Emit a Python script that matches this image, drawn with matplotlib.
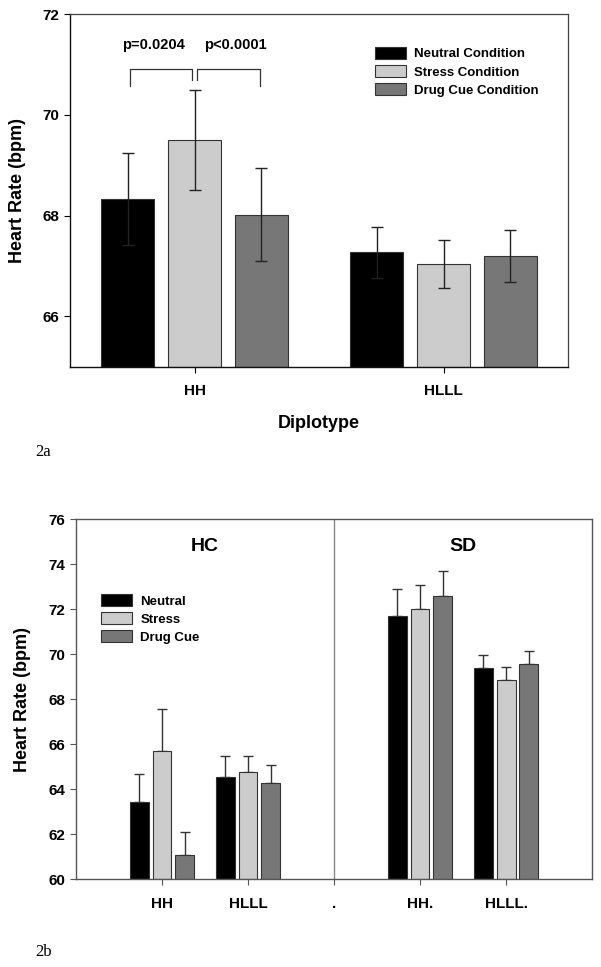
import matplotlib
matplotlib.use("Agg")
import matplotlib.pyplot as plt
import numpy as np

plt.rcParams['font.family'] = ['Liberation Sans', 'DejaVu Sans']

# --- Figure 2a data ---
diplotypes_a = ["HH", "HLLL"]
conditions_a = ["Neutral Condition", "Stress Condition", "Drug Cue Condition"]
neutral_a = [68.33, 67.27]
stress_a = [69.50, 67.04]
drugcue_a = [68.02, 67.20]
neutral_a_err = [0.92, 0.51]
stress_a_err = [1.00, 0.47]
drugcue_a_err = [0.93, 0.52]
pvals_a = ["p=0.0204", "p<0.0001"]

# --- Figure 2b data ---
tick_labels_b = ["HH", "HLLL", ".", "HH.", "HLLL."]
conditions_b = ["Neutral", "Stress", "Drug Cue"]
groups_b = ["HC", "SD"]
neutral_b = [63.46, 64.57, np.nan, 71.71, 69.41]
stress_b = [65.72, 64.79, np.nan, 72.02, 68.84]
drugcue_b = [61.09, 64.28, np.nan, 72.57, 69.58]
neutral_b_err = [1.23, 0.92, np.nan, 1.19, 0.57]
stress_b_err = [1.84, 0.70, np.nan, 1.04, 0.62]
drugcue_b_err = [1.03, 0.81, np.nan, 1.14, 0.59]

colors = ["#000000", "#cccccc", "#777777"]
edge = "#333333"

fig = plt.figure(figsize=(6.01, 9.67), dpi=100)

# ---------------- 2a ----------------
ax1 = fig.add_axes([0.1165, 0.6208, 0.8286, 0.3647])
x = np.arange(len(diplotypes_a))
w = 0.215
off = 0.269
series_a = [(neutral_a, neutral_a_err), (stress_a, stress_a_err), (drugcue_a, drugcue_a_err)]
for i, (vals, errs) in enumerate(series_a):
    ax1.bar(x + (i - 1) * off, np.array(vals) - 65, w, bottom=65, color=colors[i],
            edgecolor=edge, linewidth=0.8, label=conditions_a[i], zorder=2)
    ax1.errorbar(x + (i - 1) * off, vals, yerr=errs, fmt="none", ecolor="#222222",
                 elinewidth=1.0, capsize=4.5, capthick=1.0, zorder=3)

ax1.set_xlim(-0.5, 1.5)
ax1.set_ylim(65, 72)
ax1.set_yticks([66, 68, 70, 72])
ax1.set_xticks(x)
ax1.set_xticklabels(diplotypes_a)
ax1.tick_params(axis="both", direction="out", length=4, width=0.8, labelsize=11)
ax1.tick_params(axis="x", pad=8.5)
for lab in ax1.get_xticklabels() + ax1.get_yticklabels():
    lab.set_fontweight("bold")
ax1.set_ylabel("Heart Rate (bpm)", fontsize=13, fontweight="bold", labelpad=12)
ax1.set_xlabel("Diplotype", fontsize=13, fontweight="bold", labelpad=12.5)
for s in ["left", "bottom"]:
    ax1.spines[s].set_color("#111111")
    ax1.spines[s].set_linewidth(1.0)
for s in ["top", "right"]:
    ax1.spines[s].set_color("#444444")
    ax1.spines[s].set_linewidth(0.9)

# significance brackets
top_y = 70.905
xs = [x[0] - off, x[0], x[0] + off]
ax1.plot([xs[0] + 0.01, xs[0] + 0.01, xs[1] - 0.01, xs[1] - 0.01],
         [70.57, top_y, top_y, 70.69], color="#333333", lw=0.9)
ax1.plot([xs[1] + 0.01, xs[1] + 0.01, xs[2] - 0.005, xs[2] - 0.005],
         [70.69, top_y, top_y, 70.57], color="#333333", lw=0.9)
ax1.text(xs[0] + 0.105, 71.39, pvals_a[0], ha="center", va="center",
         fontsize=10.5, fontweight="bold")
ax1.text(xs[1] + 0.165, 71.39, pvals_a[1], ha="center", va="center",
         fontsize=10.5, fontweight="bold")

leg1 = ax1.legend(loc="upper left", bbox_to_anchor=(0.588, 0.94), frameon=False,
                  fontsize=9.5, handlelength=2.4, handleheight=1.0,
                  labelspacing=0.35, handletextpad=0.6)
for t in leg1.get_texts():
    t.set_fontweight("bold")

fig.text(0.072, 1 - 451.7 / 967, "2a", family="Liberation Serif", fontsize=12,
         ha="center", va="center")

# ---------------- 2b ----------------
ax2 = fig.add_axes([0.1265, 0.0905, 0.8586, 0.3725])
xb = np.arange(1, len(tick_labels_b) + 1)
wb = 0.22
offb = 0.265
series_b = [(neutral_b, neutral_b_err), (stress_b, stress_b_err), (drugcue_b, drugcue_b_err)]
for i, (vals, errs) in enumerate(series_b):
    vals = np.array(vals)
    ax2.bar(xb + (i - 1) * offb, vals - 60, wb, bottom=60, color=colors[i],
            edgecolor=edge, linewidth=0.8, label=conditions_b[i], zorder=2)
    ax2.errorbar(xb + (i - 1) * offb, vals, yerr=[np.zeros_like(vals), errs],
                 fmt="none", ecolor="#333333", elinewidth=1.0, capsize=3.5,
                 capthick=1.0, zorder=1)

ax2.set_xlim(0, 6)
ax2.set_ylim(60, 76)
ax2.set_yticks(np.arange(60, 77, 2))
ax2.set_xticks(xb)
ax2.set_xticklabels(tick_labels_b)
ax2.tick_params(axis="both", direction="out", length=4, width=0.8, labelsize=11,
                color="#555555")
ax2.tick_params(axis="x", pad=8.5)
for lab in ax2.get_xticklabels() + ax2.get_yticklabels():
    lab.set_fontweight("bold")
ax2.set_ylabel("Heart Rate (bpm)", fontsize=13, fontweight="bold", labelpad=13)
for s in ax2.spines.values():
    s.set_color("#555555")
    s.set_linewidth(1.0)
ax2.axvline(3, color="#888888", lw=1.0)
ax2.text(1.5, 74.8, groups_b[0], ha="center", va="center", fontsize=14, fontweight="bold")
ax2.text(4.5, 74.8, groups_b[1], ha="center", va="center", fontsize=14, fontweight="bold")

leg2 = ax2.legend(loc="upper left", bbox_to_anchor=(0.025, 0.825), frameon=False,
                  fontsize=9.5, handlelength=2.4, handleheight=1.0,
                  labelspacing=0.35, handletextpad=0.6)
for t in leg2.get_texts():
    t.set_fontweight("bold")

fig.text(0.072, 1 - 951.7 / 967, "2b", family="Liberation Serif", fontsize=12,
         ha="center", va="center")

fig.savefig("out.png", dpi=100)
